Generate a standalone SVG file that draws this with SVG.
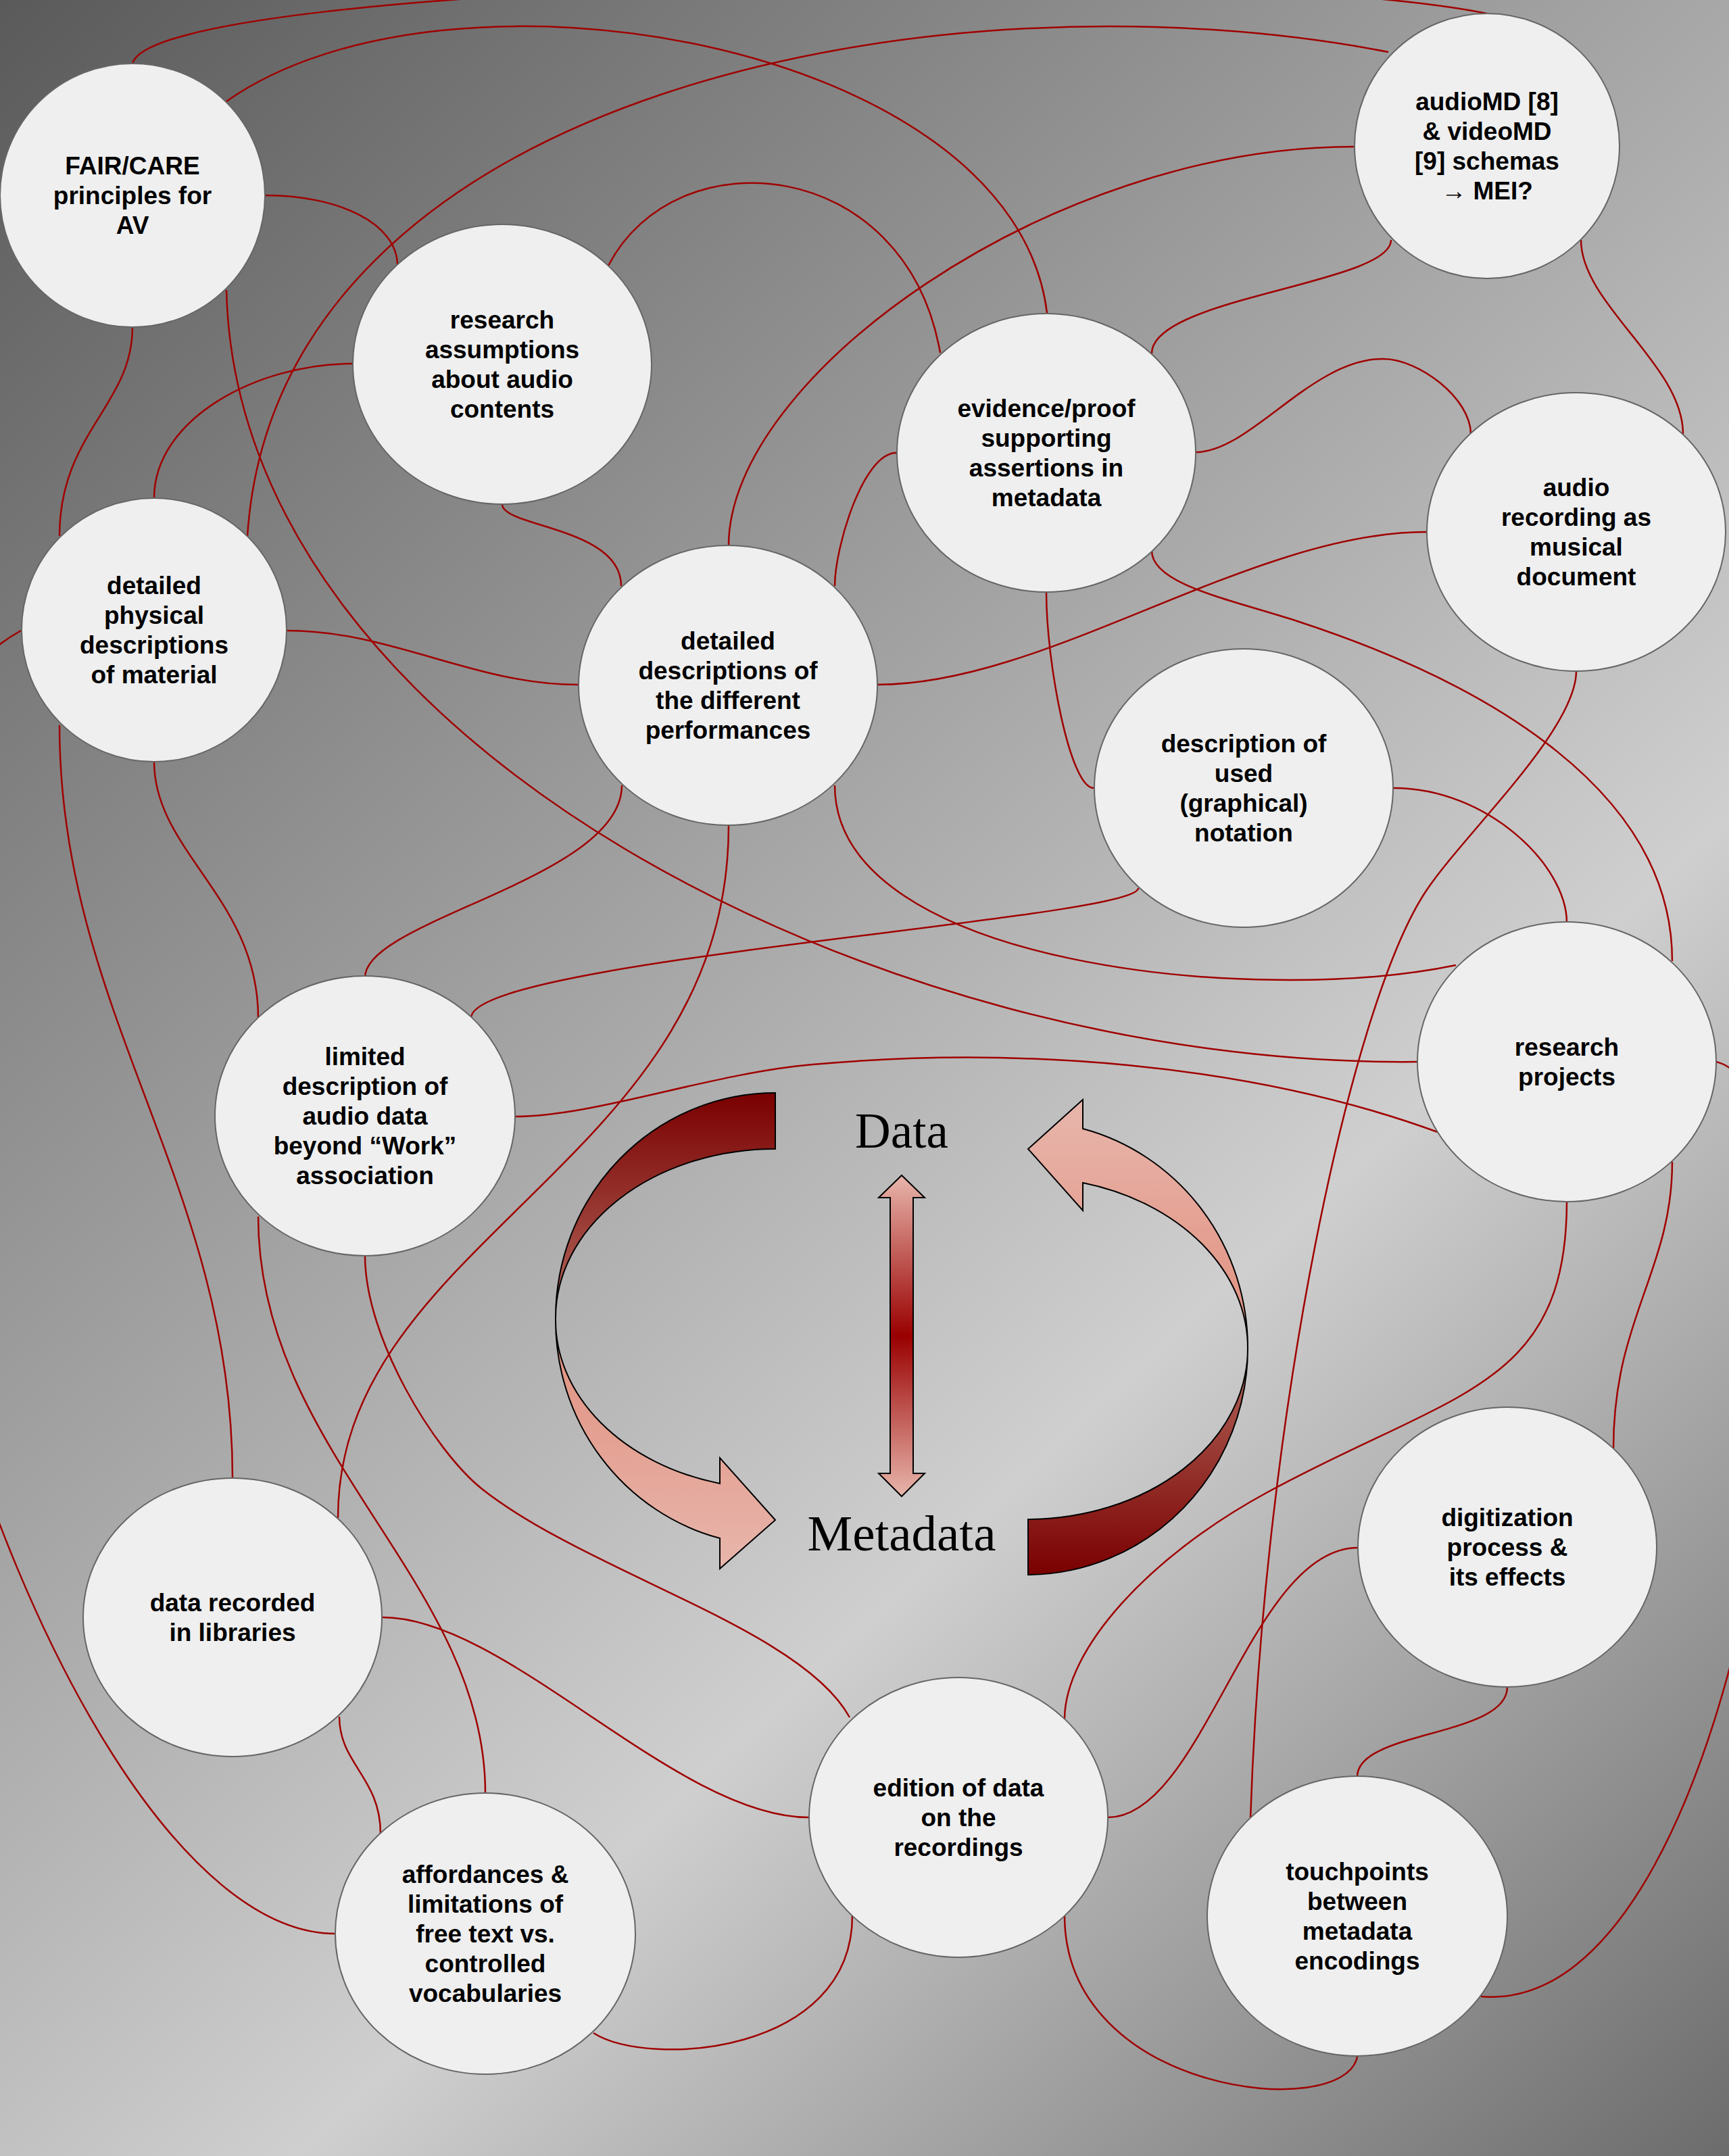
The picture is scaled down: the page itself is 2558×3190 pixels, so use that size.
<svg xmlns="http://www.w3.org/2000/svg" width="2558" height="3190" viewBox="0 0 2558 3190">
<defs>
<linearGradient id="bg" gradientUnits="userSpaceOnUse" x1="0" y1="0" x2="2784" y2="2979">
<stop offset="0" stop-color="#5a5a5a"/>
<stop offset="0.645" stop-color="#cfcfcf"/>
<stop offset="1" stop-color="#6c6c6c"/>
</linearGradient>
<linearGradient id="gLU" gradientUnits="userSpaceOnUse" x1="0" y1="1617" x2="0" y2="1950">
<stop offset="0" stop-color="#7a0000"/><stop offset="1" stop-color="#b26a5e"/>
</linearGradient>
<linearGradient id="gLL" gradientUnits="userSpaceOnUse" x1="0" y1="1950" x2="0" y2="2321">
<stop offset="0" stop-color="#e08e7c"/><stop offset="1" stop-color="#e8b6ac"/>
</linearGradient>
<linearGradient id="gRU" gradientUnits="userSpaceOnUse" x1="0" y1="1627" x2="0" y2="1995">
<stop offset="0" stop-color="#e8b6ac"/><stop offset="1" stop-color="#e08e7c"/>
</linearGradient>
<linearGradient id="gRL" gradientUnits="userSpaceOnUse" x1="0" y1="1995" x2="0" y2="2330">
<stop offset="0" stop-color="#b26a5e"/><stop offset="1" stop-color="#7a0000"/>
</linearGradient>
<linearGradient id="gV" gradientUnits="userSpaceOnUse" x1="0" y1="1739" x2="0" y2="2214">
<stop offset="0" stop-color="#e8b6ac"/><stop offset="0.5" stop-color="#990000"/><stop offset="1" stop-color="#e8b6ac"/>
</linearGradient>
</defs>
<style>
.node ellipse{fill:#efefef;stroke:#666666;stroke-width:2}
.node text{font-family:"Liberation Sans",Arial,sans-serif;font-weight:bold;font-size:37px;fill:#000000;text-anchor:middle}
#connectors path{fill:none;stroke:#a00000;stroke-width:2.5}
.arrow{stroke:#000000;stroke-width:2}
.big{font-family:"Liberation Serif","Times New Roman",serif;fill:#000000;text-anchor:middle}
</style>
<rect x="0" y="0" width="2558" height="3190" fill="url(#bg)"/>
<g id="connectors">
<path d="M 196,94 C 230,-30 1800,-60 2200,20"/>
<path d="M 335,150 C 661,-81 1500,60 1549,463"/>
<path d="M 2054,77 C 1400,-50 410,130 366,793"/>
<path d="M 335,429 C 350,1100 1300,1580 2097,1571"/>
<path d="M 392,289 C 500,289 588,330 588,393"/>
<path d="M 196,484 C 196,600 88,640 88,793"/>
<path d="M 88,1073 C 88,1500 344,1750 344,2186"/>
<path d="M 522,538 C 380,538 228,620 228,737"/>
<path d="M 743,746 C 743,780 919,780 919,867"/>
<path d="M 900,393 C 1000,200 1340,230 1391,522"/>
<path d="M 2003,217 C 1550,217 1078,560 1078,807"/>
<path d="M 2058,355 C 2058,420 1704,440 1704,523"/>
<path d="M 2339,355 C 2339,450 2490,540 2490,642"/>
<path d="M 1769,669 C 1850,669 1940,531 2046,531 C 2100,531 2176,590 2176,642"/>
<path d="M 1326,670 C 1277,670 1235,810 1235,867"/>
<path d="M 1548,877 C 1548,980 1583,1166 1618,1166"/>
<path d="M 1704,815 C 1704,865 1824,888 1919,919 C 2204,1012 2474,1172 2474,1422"/>
<path d="M 2474,1719 C 2474,1880 2387,1950 2387,2143"/>
<path d="M 2111,787 C 1850,787 1550,1013 1299,1013"/>
<path d="M 2332,993 C 2332,1080 2165,1235 2110,1318 C 1999,1484 1870,2091 1850,2691"/>
<path d="M 2062,1166 C 2200,1166 2318,1280 2318,1365"/>
<path d="M 1684,1314 C 1684,1360 697,1420 697,1506"/>
<path d="M 1235,1162 C 1235,1430 1861,1489 2154,1428"/>
<path d="M 920,1162 C 920,1300 540,1361 540,1446"/>
<path d="M 1078,1221 C 1078,1721 500,1833 500,2246"/>
<path d="M 856,1013 C 700,1013 580,933 424,933"/>
<path d="M 228,1127 C 228,1260 382,1330 382,1506"/>
<path d="M 761,1652 C 880,1652 1052,1588 1202,1575 C 1501,1548 1845,1572 2127,1675"/>
<path d="M 540,1858 C 540,1980 643,2147 713,2203 C 870,2327 1185,2409 1257,2541"/>
<path d="M 382,1800 C 382,2150 718,2339 718,2653"/>
<path d="M 566,2393 C 750,2393 1000,2689 1197,2689"/>
<path d="M 502,2540 C 502,2610 563,2630 563,2713"/>
<path d="M 1261,2834 C 1261,3040 960,3060 878,3008"/>
<path d="M 1639,2689 C 1780,2689 1850,2290 2009,2290"/>
<path d="M 2318,1777 C 2318,2054 2151,2058 1875,2208 C 1700,2303 1575,2440 1575,2544"/>
<path d="M 1575,2834 C 1575,3100 1990,3140 2008,3043"/>
<path d="M 2230,2496 C 2230,2570 2008,2560 2008,2629"/>
<path d="M 2539,1571 C 2750,1620 2600,2990 2191,2954"/>
<path d="M 31,933 C -450,1200 50,2861 496,2861"/>
</g>
<g id="cycle">
<path class="arrow" fill="url(#gLU)" d="M 1147,1617 A 325 333 0 0 0 822,1950 A 325 250 0 0 1 1147,1700 Z"/>
<path class="arrow" fill="url(#gLL)" d="M 822,1950 A 325 333 0 0 0 1065,2276 L 1065,2321 L 1147,2249 L 1065,2157 L 1065,2195 A 325 250 0 0 1 822,1950 Z"/>
<path class="arrow" fill="url(#gRU)" d="M 1846,1995 A 327 335 0 0 0 1602,1670 L 1602,1627 L 1521,1700 L 1602,1791 L 1602,1750 A 327 253 0 0 1 1846,1995 Z"/>
<path class="arrow" fill="url(#gRL)" d="M 1846,1995 A 327 335 0 0 1 1521,2330 L 1521,2248 A 327 253 0 0 0 1846,1995 Z"/>
<path class="arrow" fill="url(#gV)" d="M 1334,1739 L 1368,1772 L 1351,1772 L 1351,2180 L 1368,2180 L 1334,2214 L 1300,2180 L 1317,2180 L 1317,1772 L 1300,1772 Z"/>
<text class="big" x="1334" y="1698" font-size="73">Data</text>
<text class="big" x="1334" y="2294" font-size="75">Metadata</text>
</g>
<g id="n-fair" class="node"><ellipse cx="196" cy="289" rx="196" ry="195"/>
<text x="196" y="258">FAIR/CARE</text><text x="196" y="302">principles for</text><text x="196" y="346">AV</text></g>
<g id="n-assumptions" class="node"><ellipse cx="743" cy="539" rx="221" ry="207"/>
<text x="743" y="486">research</text><text x="743" y="530">assumptions</text><text x="743" y="574">about audio</text><text x="743" y="618">contents</text></g>
<g id="n-audiomd" class="node"><ellipse cx="2200" cy="216" rx="196" ry="196"/>
<text x="2200" y="163">audioMD [8]</text><text x="2200" y="207">&amp; videoMD</text><text x="2200" y="251">[9] schemas</text><text x="2200" y="295">→ MEI?</text></g>
<g id="n-evidence" class="node"><ellipse cx="1548" cy="670" rx="221" ry="206"/>
<text x="1548" y="617">evidence/proof</text><text x="1548" y="661">supporting</text><text x="1548" y="705">assertions in</text><text x="1548" y="749">metadata</text></g>
<g id="n-audiorec" class="node"><ellipse cx="2332" cy="787" rx="221" ry="206"/>
<text x="2332" y="734">audio</text><text x="2332" y="778">recording as</text><text x="2332" y="822">musical</text><text x="2332" y="866">document</text></g>
<g id="n-physical" class="node"><ellipse cx="228" cy="932" rx="196" ry="195"/>
<text x="228" y="879">detailed</text><text x="228" y="923">physical</text><text x="228" y="967">descriptions</text><text x="228" y="1011">of material</text></g>
<g id="n-performances" class="node"><ellipse cx="1077" cy="1014" rx="221" ry="207"/>
<text x="1077" y="961">detailed</text><text x="1077" y="1005">descriptions of</text><text x="1077" y="1049">the different</text><text x="1077" y="1093">performances</text></g>
<g id="n-notation" class="node"><ellipse cx="1840" cy="1166" rx="221" ry="206"/>
<text x="1840" y="1113">description of</text><text x="1840" y="1157">used</text><text x="1840" y="1201">(graphical)</text><text x="1840" y="1245">notation</text></g>
<g id="n-projects" class="node"><ellipse cx="2318" cy="1571" rx="221" ry="207"/>
<text x="2318" y="1562">research</text><text x="2318" y="1606">projects</text></g>
<g id="n-limited" class="node"><ellipse cx="540" cy="1651" rx="222" ry="207"/>
<text x="540" y="1576">limited</text><text x="540" y="1620">description of</text><text x="540" y="1664">audio data</text><text x="540" y="1708">beyond “Work”</text><text x="540" y="1752">association</text></g>
<g id="n-libraries" class="node"><ellipse cx="344" cy="2393" rx="221" ry="206"/>
<text x="344" y="2384">data recorded</text><text x="344" y="2428">in libraries</text></g>
<g id="n-digitization" class="node"><ellipse cx="2230" cy="2289" rx="221" ry="207"/>
<text x="2230" y="2258">digitization</text><text x="2230" y="2302">process &amp;</text><text x="2230" y="2346">its effects</text></g>
<g id="n-edition" class="node"><ellipse cx="1418" cy="2689" rx="221" ry="207"/>
<text x="1418" y="2658">edition of data</text><text x="1418" y="2702">on the</text><text x="1418" y="2746">recordings</text></g>
<g id="n-affordances" class="node"><ellipse cx="718" cy="2861" rx="222" ry="208"/>
<text x="718" y="2786">affordances &amp;</text><text x="718" y="2830">limitations of</text><text x="718" y="2874">free text vs.</text><text x="718" y="2918">controlled</text><text x="718" y="2962">vocabularies</text></g>
<g id="n-touchpoints" class="node"><ellipse cx="2008" cy="2835" rx="222" ry="207"/>
<text x="2008" y="2782">touchpoints</text><text x="2008" y="2826">between</text><text x="2008" y="2870">metadata</text><text x="2008" y="2914">encodings</text></g>
</svg>
